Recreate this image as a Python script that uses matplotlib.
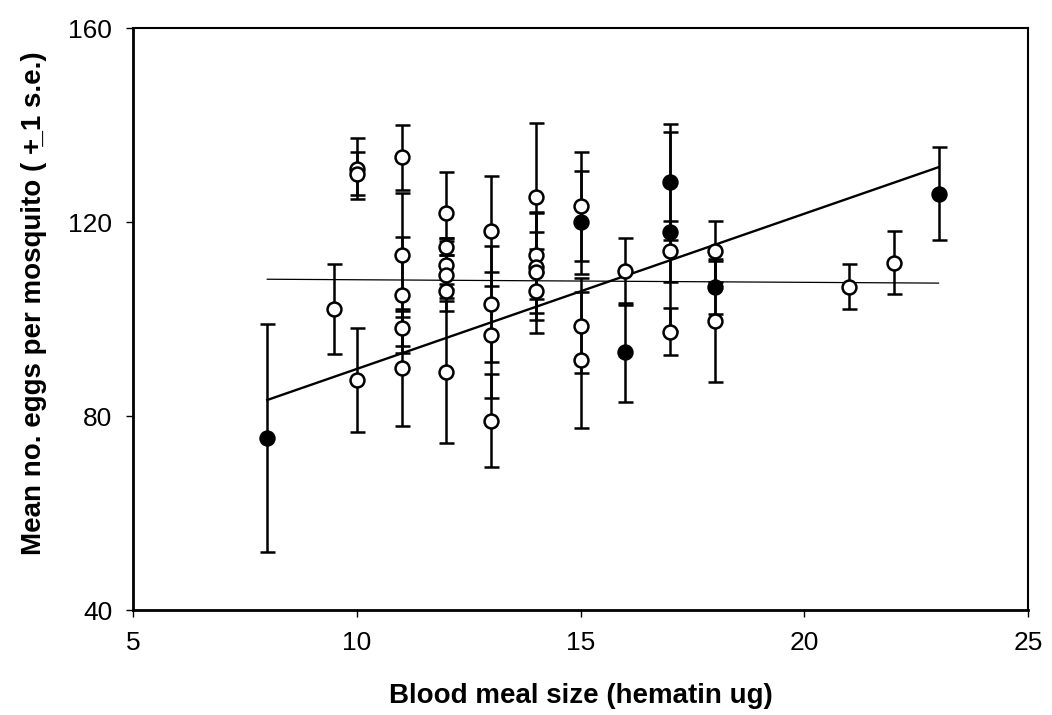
import matplotlib.pyplot as plt
import numpy as np

plt.rcParams['font.family'] = ['Liberation Sans', 'DejaVu Sans']

# open circles: blood meal size, mean eggs, s.e.
open_x = [9.5, 10, 10, 10, 11, 11, 11, 11, 11, 12, 12, 12, 12, 12, 12,
          13, 13, 13, 13, 14, 14, 14, 14, 14, 15, 15, 15, 16, 17, 17,
          18, 18, 21, 22]
open_y = [102, 131, 130, 87.4, 133.3, 113.2, 105, 98.1, 90, 121.8, 114.9,
          111.1, 109.1, 105.8, 89.1, 118.2, 103.1, 96.7, 79, 125.1, 113.1,
          110.8, 109.6, 105.8, 123.2, 98.6, 91.5, 109.8, 114, 97.4,
          114, 99.5, 106.7, 111.6]
open_se = [9.3, 6.3, 4.5, 10.7, 6.7, 12.7, 12, 3.6, 12, 8.6, 1.7,
           5, 7.5, 1.5, 14.6, 11.3, 12, 13, 9.6, 15.4, 9,
           11, 8.4, 8.6, 11.3, 9.8, 14, 7, 6.3, 4.8,
           6.3, 12.4, 4.7, 6.5]

# filled circles
filled_x = [8, 15, 16, 17, 17, 18, 23]
filled_y = [75.5, 119.9, 93.1, 128.2, 118, 106.7, 125.8]
filled_se = [23.5, 10.6, 10.3, 12, 20.5, 5.6, 9.6]

# fitted lines (end points)
fit_x = [8, 23]
fit_steep = [83.3, 131.3]
fit_flat = [108.2, 107.4]

fig = plt.figure(figsize=(10.52, 7.15), dpi=100)
ax = fig.add_axes([133 / 1052, 1 - 610 / 715, 895 / 1052, 582 / 715])

ax.plot(fit_x, fit_flat, color='black', lw=0.9, zorder=2)
ax.plot(fit_x, fit_steep, color='black', lw=1.7, zorder=2)

ax.errorbar(open_x, open_y, yerr=open_se, fmt='o', color='black',
            mfc='white', mec='black', ms=10, mew=1.8, elinewidth=1.8,
            capsize=5.4, capthick=1.8, zorder=3)
ax.errorbar(filled_x, filled_y, yerr=filled_se, fmt='o', color='black',
            mfc='black', mec='black', ms=10, mew=1.8, elinewidth=1.8,
            capsize=5.4, capthick=1.8, zorder=3)

ax.set_xlim(5, 25)
ax.set_ylim(40, 160)
ax.set_xticks([5, 10, 15, 20, 25])
ax.set_yticks([40, 80, 120, 160])
ax.tick_params(direction='out', length=5, width=1, labelsize=19, pad=10)

for side in ['left', 'bottom']:
    ax.spines[side].set_linewidth(2)
for side in ['top', 'right']:
    ax.spines[side].set_linewidth(1.5)

ax.set_xlabel('Blood meal size (hematin ug)', fontsize=20, fontweight='bold')
ax.set_ylabel('Mean no. eggs per mosquito ( +\u0332 1 s.e.)', fontsize=20,
              fontweight='bold')
ax.xaxis.set_label_coords(0.5, -0.125)
ax.yaxis.set_label_coords(-0.096, 0.527)

plt.savefig('out.png', dpi=100)
